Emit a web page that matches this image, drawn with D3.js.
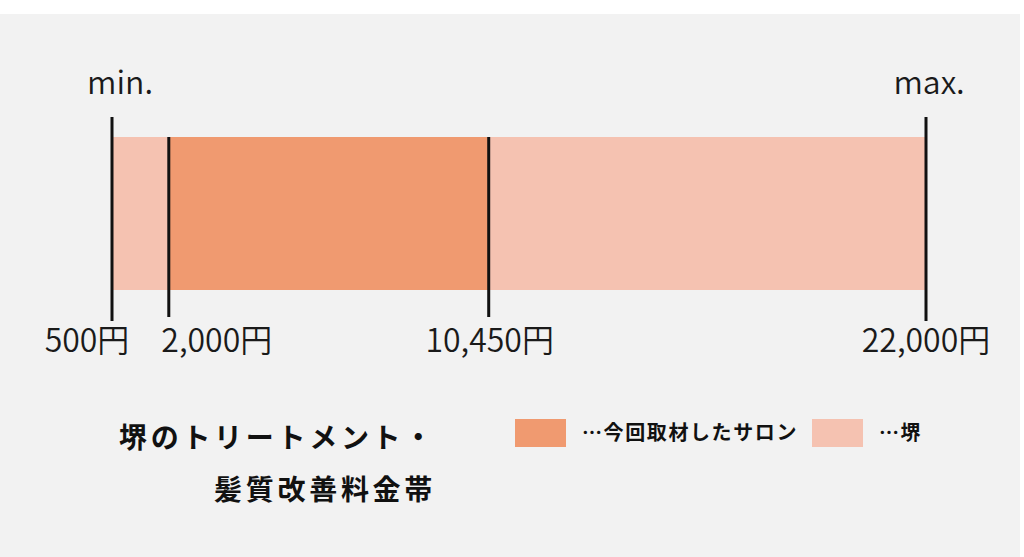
<!DOCTYPE html>
<html>
<head>
<meta charset="utf-8">
<script src="https://cdn.jsdelivr.net/npm/d3@7"></script>
<style>
  html, body { margin: 0; padding: 0; background: #ffffff; }
  svg { display: block; }
  text { font-family: "Noto Sans CJK JP", "Noto Sans", sans-serif; }
</style>
</head>
<body>
<div class="chart"></div>
<script>
// --------------------------------------------------------
// DATA
// --------------------------------------------------------
const areaRange = [500, 22000];          // 堺 全体
const salonRange = [2000, 10450];        // 今回取材したサロン
const tickValues = [500, 2000, 10450, 22000];
const tickLabels = ["500円", "2,000円", "10,450円", "22,000円"];
const endLabels = ["min.", "max."];
const titleLines = ["堺のトリートメント・", "髪質改善料金帯"];
const legendLabels = ["…今回取材したサロン", "…堺"];

// --------------------------------------------------------
// VARIABLES
// --------------------------------------------------------
const width = 1024;
const height = 557;
const colorSalon = "#f09a70";
const colorArea = "#f5c2b1";

const svg = d3
  .select(".chart")
  .append("svg")
  .attr("width", width)
  .attr("height", height);

// grey panel
svg.append("rect")
  .attr("x", 0).attr("y", 14)
  .attr("width", 1020).attr("height", height - 14)
  .attr("fill", "#f2f2f2");

const x = d3.scaleLinear().domain(areaRange).range([112, 926]);

const barTop = 137;
const barBottom = 290;

// bars
svg.append("rect")
  .attr("x", x(areaRange[0]))
  .attr("y", barTop)
  .attr("width", x(areaRange[1]) - x(areaRange[0]))
  .attr("height", barBottom - barTop)
  .attr("fill", colorArea);

svg.append("rect")
  .attr("x", x(salonRange[0]))
  .attr("y", barTop)
  .attr("width", x(salonRange[1]) - x(salonRange[0]))
  .attr("height", barBottom - barTop)
  .attr("fill", colorSalon);

// tick lines (outer ones are taller)
const isEnd = (d) => d === areaRange[0] || d === areaRange[1];
svg.append("g")
  .selectAll("line")
  .data(tickValues)
  .join("line")
  .attr("x1", (d) => x(d))
  .attr("x2", (d) => x(d))
  .attr("y1", (d) => (isEnd(d) ? 117 : 137))
  .attr("y2", (d) => (isEnd(d) ? 321 : 317))
  .attr("stroke", "#111")
  .attr("stroke-width", 3);

// tick labels
const labelShift = [-25, 48, 1, 0];
svg.append("g")
  .selectAll("text")
  .data(tickValues)
  .join("text")
  .attr("x", (d, i) => x(d) + labelShift[i])
  .attr("y", 352)
  .attr("text-anchor", "middle")
  .attr("font-size", 32)
  .attr("font-weight", 350)
  .attr("fill", "#1a1a1a")
  .text((d, i) => tickLabels[i]);

// min. / max.
svg.append("g")
  .selectAll("text")
  .data(areaRange)
  .join("text")
  .attr("x", (d, i) => x(d) + (i === 0 ? 8 : 3))
  .attr("y", 94)
  .attr("text-anchor", "middle")
  .attr("font-size", 32)
  .attr("font-weight", 350)
  .attr("fill", "#1a1a1a")
  .text((d, i) => endLabels[i]);

// title
svg.append("g")
  .selectAll("text")
  .data(titleLines)
  .join("text")
  .attr("x", 436)
  .attr("y", (d, i) => 448 + i * 52)
  .attr("text-anchor", "end")
  .attr("font-size", 28)
  .attr("font-weight", 700)
  .attr("letter-spacing", 3.7)
  .attr("fill", "#111")
  .text((d) => d);

// legend
const legend = svg.append("g")
  .selectAll("g")
  .data(legendLabels)
  .join("g")
  .attr("transform", (d, i) => `translate(${i === 0 ? 515 : 812},419)`);

legend.append("rect")
  .attr("width", 51)
  .attr("height", 28)
  .attr("fill", (d, i) => (i === 0 ? colorSalon : colorArea));

legend.append("text")
  .attr("x", 67)
  .attr("y", 21)
  .attr("font-size", 20)
  .attr("font-weight", 700)
  .attr("letter-spacing", 1.6)
  .attr("fill", "#111")
  .text((d) => d);
</script>
</body>
</html>
